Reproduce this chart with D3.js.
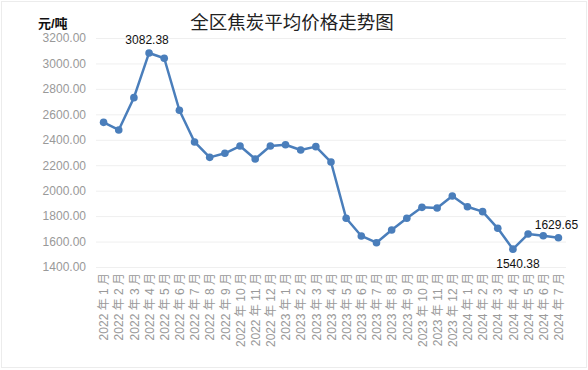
<!DOCTYPE html>
<html>
<head>
<meta charset="utf-8">
<script src="https://cdn.jsdelivr.net/npm/d3@7"></script>
<style>
  body { margin: 0; background: #fff; }
  text { font-family: "Liberation Sans", "Noto Sans CJK SC", sans-serif; }
</style>
</head>
<body>
<div id="chart"></div>
<script>
var months = ["2022 年 1 月","2022 年 2 月","2022 年 3 月","2022 年 4 月","2022 年 5 月","2022 年 6 月",
  "2022 年 7 月","2022 年 8 月","2022 年 9 月","2022 年 10 月","2022 年 11 月","2022 年 12 月",
  "2023 年 1 月","2023 年 2 月","2023 年 3 月","2023 年 4 月","2023 年 5 月","2023 年 6 月",
  "2023 年 7 月","2023 年 8 月","2023 年 9 月","2023 年 10 月","2023 年 11 月","2023 年 12 月",
  "2024 年 1 月","2024 年 2 月","2024 年 3 月","2024 年 4 月","2024 年 5 月","2024 年 6 月","2024 年 7 月"];
var price = [2537, 2477, 2731, 3082.38, 3041, 2632, 2383, 2262, 2294, 2351, 2249, 2351,
  2361, 2320, 2346, 2225, 1783, 1644, 1591, 1691, 1783, 1869, 1864, 1958,
  1874, 1835, 1704, 1540.38, 1659, 1646, 1629.65];
var yTicks = [1400, 1600, 1800, 2000, 2200, 2400, 2600, 2800, 3000, 3200];
// labelled points: index, above/below
var labelled = [{i: 3, pos: "above"}, {i: 27, pos: "below"}, {i: 30, pos: "above"}];

var W = 588, H = 370;
var margin = {top: 38, right: 22, bottom: 103, left: 96},
  width = W - margin.left - margin.right,
  height = H - margin.top - margin.bottom;

var root = d3.select("#chart").append("svg")
  .attr("width", W).attr("height", H);

root.append("rect")
  .attr("x", 1.5).attr("y", 1.5)
  .attr("width", W - 3).attr("height", H - 4)
  .attr("fill", "#fff").attr("stroke", "#ececec");

root.append("text")
  .attr("x", 292).attr("y", 29)
  .attr("text-anchor", "middle")
  .attr("font-size", 18.5)
  .attr("fill", "#222")
  .text("全区焦炭平均价格走势图");

root.append("text")
  .attr("x", 38).attr("y", 28)
  .attr("font-size", 13)
  .attr("font-weight", "bold")
  .attr("fill", "#111")
  .text("元/吨");

var svg = root.append("g")
  .attr("transform", "translate(" + margin.left + "," + margin.top + ")");

var x = d3.scalePoint().domain(months).range([0, width]).padding(0.5);
var y = d3.scaleLinear().domain([1400, 3200]).range([height, 0]);

// y grid + labels
var yAxis = d3.axisLeft(y).tickValues(yTicks)
  .tickSize(-width).tickPadding(10)
  .tickFormat(d3.format(".2f"));
svg.append("g").attr("class", "yAxis").call(yAxis)
  .call(function(g){
    g.select(".domain").remove();
    g.selectAll(".tick line").attr("stroke", "#efefef");
    g.selectAll(".tick text").attr("fill", "#999").attr("font-size", 12);
  });

// x labels
var xAxis = d3.axisBottom(x).tickSize(0);
svg.append("g").attr("class", "xAxis")
  .attr("transform", "translate(0," + height + ")")
  .call(xAxis)
  .call(function(g){
    g.select(".domain").remove();
    g.selectAll(".tick text")
      .attr("fill", "#999").attr("font-size", 12)
      .attr("transform", "rotate(-90)")
      .attr("text-anchor", "end")
      .attr("x", -6).attr("y", 0).attr("dy", "0.35em");
  });

var data = months.map(function(m, i){ return {m: m, v: price[i]}; });

svg.append("path")
  .datum(data)
  .attr("fill", "none")
  .attr("stroke", "#4a7ebb")
  .attr("stroke-width", 2.5)
  .attr("stroke-linejoin", "round")
  .attr("d", d3.line()
    .x(function(d){ return x(d.m); })
    .y(function(d){ return y(d.v); }));

svg.selectAll(".dot").data(data).enter()
  .append("circle")
  .attr("class", "dot")
  .attr("cx", function(d){ return x(d.m); })
  .attr("cy", function(d){ return y(d.v); })
  .attr("r", 3.8)
  .attr("fill", "#4a7ebb");

svg.selectAll(".lbl").data(labelled).enter()
  .append("text")
  .attr("class", "lbl")
  .attr("x", function(d){ return x(months[d.i]) + (d.pos == "below" ? 5 : -2); })
  .attr("y", function(d){ return y(price[d.i]) + (d.pos == "below" ? 19 : -9); })
  .attr("text-anchor", "middle")
  .attr("font-size", 12)
  .attr("fill", "#111")
  .text(function(d){ return d3.format(".2f")(price[d.i]); });
</script>
</body>
</html>
